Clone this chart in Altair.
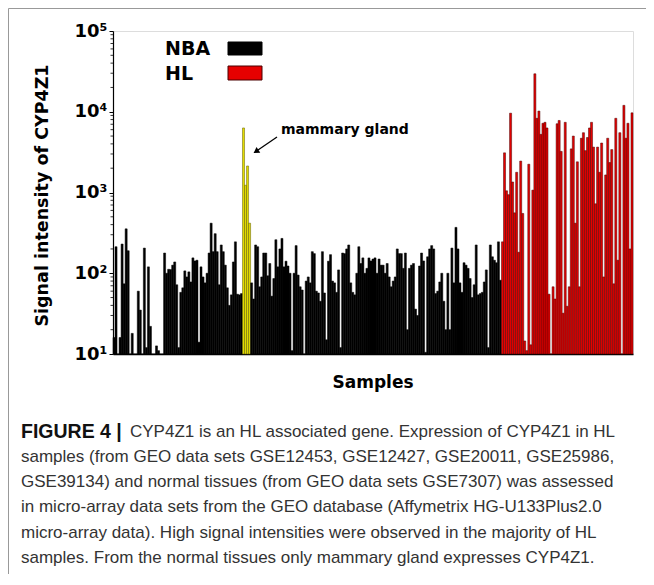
import altair as alt
import pandas as pd

# ---- data (signal intensity per sample) ----
nba_a = [16, 213, 10, 16, 230, 74, 355, 190, 10, 18, 10, 10, 60, 35, 10, 205, 12, 120, 22, 10,
         10, 12.6, 11, 10, 10,
         178, 100, 112, 111, 126, 138, 72, 12, 58, 66, 107, 90, 104, 78, 155, 142, 145, 14, 120, 90,
         76, 100, 178, 417, 185, 309, 185, 72, 224, 185, 126, 66, 40, 54, 138, 245, 55, 54, 56]
mammary = [6300, 1230, 2130, 417]
nba_b = [76, 48, 224, 213, 68, 90, 178, 178, 93, 132, 52, 86, 260, 120, 200, 270, 120, 141, 123, 100,
         11, 100, 220,
         95, 68, 62, 10, 80, 90, 76, 185, 175, 60, 57, 45, 185, 57, 15, 141, 170, 80, 76, 58,
         110, 12, 178, 175, 200, 224, 76, 58, 54, 100, 213, 132, 155, 100, 115, 155, 142, 150, 155, 100,
         150, 126, 126, 100, 132, 90, 68, 80, 90, 200, 175, 175, 115, 178, 20, 115, 126, 132, 36, 30,
         123, 178, 142, 10.5, 160, 200, 220, 200, 56, 60, 78, 100, 45, 20, 100, 20, 205, 76, 370, 200,
         76, 58, 135, 126, 115, 86, 50, 72, 224, 54, 56, 58, 78, 110, 12, 224, 160, 145, 135, 245, 82]
hl = [245, 3100, 1050, 940, 9600, 1350, 560, 1780, 182, 2450, 550, 14.5, 11, 2240, 13, 1070, 29500,
      8300, 10200, 5250, 7200, 7400, 6300, 55, 10, 68, 48, 7100, 7800, 3230, 32, 7400, 39, 68, 3470,
      5000, 417, 2400, 68, 4700, 5500, 3300, 4800, 6300, 7400, 3650, 725, 3650, 1780, 4100, 90, 1650,
      4700, 2350, 3400, 74, 8300, 145, 5500, 10, 12000, 4700, 7200, 200, 9700]

groups = ["NBA", "mammary gland", "HL"]
fills = ["#000000", "#e3dc00", "#e60000"]
strokes = ["#000000", "#5e5a00", "#4a0000"]

y_ticks = [10, 100, 1000, 10000, 100000]
minor_ticks = [m * d for d in [10, 100, 1000, 10000] for m in range(2, 10)]

legend_labels = ["NBA", "HL"]
caption_bold = "FIGURE 4 |"
caption_lines = [
    "CYP4Z1 is an HL associated gene. Expression of CYP4Z1 in HL",
    "samples (from GEO data sets GSE12453, GSE12427, GSE20011, GSE25986,",
    "GSE39134) and normal tissues (from GEO data sets GSE7307) was assessed",
    "in micro-array data sets from the GEO database (Affymetrix HG-U133Plus2.0",
    "micro-array data). High signal intensities were observed in the majority of HL",
    "samples. From the normal tissues only mammary gland expresses CYP4Z1.",
]

values = nba_a + mammary + nba_b + hl
grp = (["NBA"] * len(nba_a) + ["mammary gland"] * len(mammary) +
       ["NBA"] * len(nba_b) + ["HL"] * len(hl))
df = pd.DataFrame({"i": list(range(len(values))), "v": values, "g": grp})

W, H = 520, 323
BOLD = "DejaVu Sans"

yscale = alt.Scale(type="log", domain=[10, 100000])
sup = ("datum.value == 10 ? '10\u00b9' : datum.value == 100 ? '10\u00b2' : "
       "datum.value == 1000 ? '10\u00b3' : datum.value == 10000 ? '10\u2074' : '10\u2075'")

bars = alt.Chart(df).mark_bar(strokeWidth=0.5).encode(
    x=alt.X("i:O", scale=alt.Scale(paddingInner=0, paddingOuter=0),
            axis=alt.Axis(labels=False, ticks=False, title=None, domainColor="black",
                          domainWidth=1.5)),
    y=alt.Y("v:Q", scale=yscale,
            axis=alt.Axis(values=y_ticks, labelExpr=sup, labelFont=BOLD, labelFontWeight="bold",
                          labelFontSize=18, labelColor="black", tickSize=4, tickColor="black",
                          domainColor="black", domainWidth=1.2, labelPadding=2, grid=False,
                          title=None)),
    y2=alt.datum(10),
    color=alt.Color("g:N", scale=alt.Scale(domain=groups, range=fills), legend=None),
    stroke=alt.Stroke("g:N", scale=alt.Scale(domain=groups, range=strokes), legend=None),
)

minor = alt.Chart(pd.DataFrame({"t": minor_ticks})).mark_rule(color="black", strokeWidth=0.8).encode(
    y=alt.Y("t:Q", scale=yscale), x=alt.value(-2.5), x2=alt.value(0))

ytitle = alt.Chart(pd.DataFrame({"t": ["Signal intensity of CYP4Z1"]})).mark_text(
    font=BOLD, fontWeight="bold", fontSize=17.5, angle=270, align="center", baseline="middle",
    color="black").encode(text="t:N", x=alt.value(-70), y=alt.value(H / 2 + 3))

xtitle = alt.Chart(pd.DataFrame({"t": ["Samples"]})).mark_text(
    font=BOLD, fontWeight="bold", fontSize=17, align="center", baseline="middle",
    color="black").encode(text="t:N", x=alt.value(260), y=alt.value(352))

leg_nba = alt.Chart(pd.DataFrame({"t": [legend_labels[0]]})).mark_text(
    font=BOLD, fontWeight="bold", fontSize=19, align="left", baseline="middle", color="black"
).encode(text="t:N", x=alt.value(52), y=alt.value(17.5))
leg_hl = alt.Chart(pd.DataFrame({"t": [legend_labels[1]]})).mark_text(
    font=BOLD, fontWeight="bold", fontSize=19, align="left", baseline="middle", color="black"
).encode(text="t:N", x=alt.value(52), y=alt.value(42.5))
box_nba = alt.Chart(pd.DataFrame({"t": [legend_labels[0]]})).mark_rect(
    fill=fills[0], stroke=strokes[0], strokeWidth=1).encode(
    x=alt.value(115), x2=alt.value(149), y=alt.value(11), y2=alt.value(24))
box_hl = alt.Chart(pd.DataFrame({"t": [legend_labels[1]]})).mark_rect(
    fill=fills[2], stroke=strokes[2], strokeWidth=1).encode(
    x=alt.value(115), x2=alt.value(149), y=alt.value(35), y2=alt.value(49))

ann = alt.Chart(pd.DataFrame({"t": ["mammary gland"]})).mark_text(
    font=BOLD, fontWeight="bold", fontSize=14, align="left", baseline="middle", color="black"
).encode(text="t:N", x=alt.value(168), y=alt.value(99))
arrow_line = alt.Chart(pd.DataFrame({"t": [0]})).mark_rule(color="black", strokeWidth=1.3).encode(
    x=alt.value(164), y=alt.value(106), x2=alt.value(145), y2=alt.value(119))
arrow_head = alt.Chart(pd.DataFrame({"t": [0]})).mark_point(
    shape="triangle-left", filled=True, color="black", size=45, angle=326, opacity=1).encode(
    x=alt.value(143), y=alt.value(120.5))

cap_bold = alt.Chart(pd.DataFrame({"t": [caption_bold]})).mark_text(
    font="Liberation Sans", fontWeight="bold", fontSize=19.5, align="left", baseline="middle",
    color="#111111").encode(text="t:N", x=alt.value(-92), y=alt.value(401))
cap_x = [17, -92, -92, -92, -92, -92]
cap_y = [401, 426, 451, 476, 502, 527]
cap_layers = []
for k, line in enumerate(caption_lines):
    cap_layers.append(alt.Chart(pd.DataFrame({"t": [line]})).mark_text(
        font="Liberation Sans", fontSize=17, align="left", baseline="middle",
        color="#333333").encode(text="t:N", x=alt.value(cap_x[k]), y=alt.value(cap_y[k])))

frame = alt.Chart(pd.DataFrame({"t": [0]})).mark_rect(
    fill=None, stroke="#999999", strokeWidth=1).encode(
    x=alt.value(-104.5), x2=alt.value(534.5), y=alt.value(-22.5), y2=alt.value(600))

chart = alt.layer(
    bars, minor, ytitle, xtitle, leg_nba, leg_hl, box_nba, box_hl, ann, arrow_line, arrow_head,
    cap_bold, *cap_layers, frame
).properties(
    width=W, height=H,
    autosize=alt.AutoSizeParams(type="none"),
    padding={"left": 105, "top": 23, "right": 13, "bottom": 220},
).configure_view(stroke="black", strokeWidth=1.5).configure(background="white")

chart.save("out.html", embed_options={"renderer": "svg", "actions": False})
